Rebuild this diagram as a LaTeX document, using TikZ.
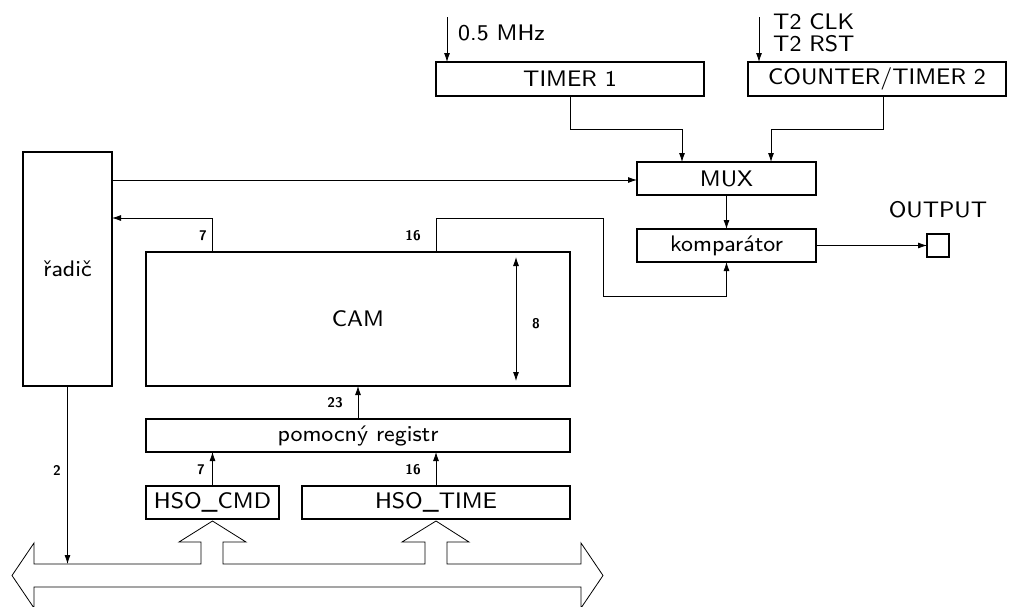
\documentclass[tikz,border=0pt]{standalone}
\usepackage{fontspec}
\usetikzlibrary{arrows.meta,calc}
\newfontfamily\lmsviii{lmsans8-regular.otf}
\newcommand\labfont{\lmsviii\fontsize{22.5}{27}\selectfont}
\newcommand\numfont{\sffamily\bfseries\fontsize{14}{16}\selectfont}
\begin{document}
\begin{tikzpicture}[x=1pt,y=-1pt,
  box/.style={draw,line width=1.5pt,inner sep=0pt,outer sep=0pt,font=\labfont},
  conn/.style={line width=0.8pt},
  arr/.style={conn,-{Latex[length=9pt,width=6pt]}},
  darr/.style={conn,{Latex[length=9pt,width=6pt]}-{Latex[length=9pt,width=6pt]}},
  num/.style={font=\numfont,inner sep=0pt},
  txt/.style={font=\labfont,inner sep=0pt}]
\useasboundingbox (0,0) rectangle (1009,606);

% boxes
\node[box,minimum width=268pt,minimum height=34pt] (timer1) at (570,79) {TIMER 1};
\node[box,minimum width=258pt,minimum height=34pt] (ctr) at (877,79) {COUNTER/TIMER 2};
\node[box,minimum width=179pt,minimum height=33pt] (mux) at (726.5,178.5) {MUX};
\node[box,minimum width=179pt,minimum height=33pt] (komp) at (726.5,245.5) {komparátor};
\node[box,minimum width=22pt,minimum height=23pt] (outp) at (938,245.5) {};
\node[box,minimum width=89pt,minimum height=234pt] (radic) at (67.5,269) {řadič};
\node[box,minimum width=424pt,minimum height=134pt] (cam) at (358,319) {CAM};
\node[box,minimum width=424pt,minimum height=33pt] (pom) at (358,435.5) {pomocný registr};
\node[box,minimum width=133pt,minimum height=33pt] (hsocmd) at (212.5,502.5) {HSO\_CMD};
\node[box,minimum width=268pt,minimum height=33pt] (hsotime) at (436,502.5) {HSO\_TIME};

% inputs of timers
\coordinate (clkA) at (447,17);
\draw[arr] (clkA) -- (clkA |- timer1.north);
\node[txt,anchor=base west] (mhz) at (458,40) {0.5 MHz};
\coordinate (clkB) at (759,17);
\draw[arr] (clkB) -- (clkB |- ctr.north);
\node[txt,anchor=base west] (t2clk) at (773,29) {T2 CLK};
\node[txt,anchor=base west] (t2rst) at (773,51) {T2 RST};

% timers to mux
\draw[arr] (timer1.south) -- ++(0,33) -| ([xshift=-44.5pt]mux.north);
\draw[arr] ([xshift=6pt]ctr.south) -- ++(0,33) -| ([xshift=44.5pt]mux.north);
\draw[arr] ([yshift=-1.5pt]radic.east |- mux.west) -- ([yshift=-1.5pt]mux.west);
\draw[arr] (mux.south) -- (komp.north);
\draw[arr] (komp.east) -- (outp.west);
\node[txt,anchor=base] (outlbl) at ([yshift=17pt]outp.north) {OUTPUT};

% CAM connections
\draw[arr] ([xshift=-146pt]cam.north) |- ([yshift=51pt]radic.east);
\node[num,anchor=east] (n7a) at (207,236) {7};
\draw[arr] ([xshift=78pt]cam.north) -- ++(0,-34) -- ++(167,0) -- ++(0,78) -| (komp.south);
\node[num] (n16a) at (413,236) {16};
\draw[darr] ([xshift=158pt,yshift=-5pt]cam.north) -- ([xshift=158pt,yshift=5pt]cam.south);
\node[num] (n8) at (536,324) {8};
\draw[arr] (pom.north) -- (cam.south);
\node[num] (n23) at (335,403) {23};
\draw[arr] (hsocmd.north) -- (hsocmd.north |- pom.south);
\node[num] (n7b) at (201,470) {7};
\draw[arr] (hsotime.north) -- (hsotime.north |- pom.south);
\node[num] (n16b) at (413,470) {16};

% bus
\coordinate (bustop) at (0,564);
\draw[arr] (radic.south) -- (radic.south |- bustop);
\node[num] (n2) at (57,470) {2};
\draw[conn,line join=miter]
  (34,564) -- (201,564) -- (201,542) -- (179,542) -- (212.5,521) -- (246,542) -- (223,542) -- (223,564)
  -- (425,564) -- (425,542) -- (402,542) -- (436,521) -- (469,542) -- (447,542) -- (447,564)
  -- (581,564) -- (581,543) -- (603,575.5) -- (581,608) -- (581,587)
  -- (34,587) -- (34,608) -- (12,575.5) -- (34,543) -- cycle;
\end{tikzpicture}
\end{document}
